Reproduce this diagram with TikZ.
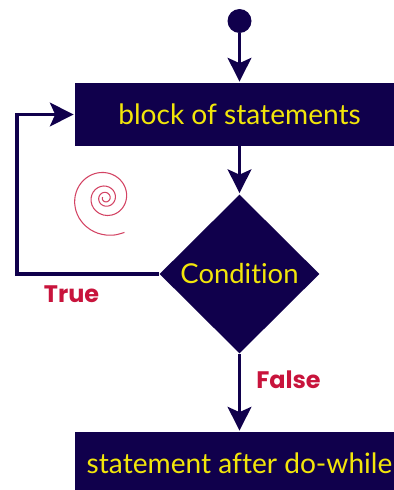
\documentclass[tikz,border=0pt]{standalone}
\usepackage{fontspec}
\setmainfont{Lato}[Ligatures=NoCommon]
\newfontfamily\labelfont{Poppins}
\usetikzlibrary{arrows.meta, shapes.geometric}
\definecolor{navy}{HTML}{10004C}
\definecolor{lemon}{HTML}{F2E60A}
\definecolor{crimson}{HTML}{C8143C}
\tikzset{
	flow/.style={draw=navy, line width=1.8pt, shorten >=0.6pt, -{Stealth[length=13.5pt, width=13.5pt, inset=3pt]}},
	blockbox/.style={fill=navy, text=lemon, minimum width=6.58cm, minimum height=1.26cm, inner sep=0pt, font=\fontsize{16}{18}\selectfont},
	label/.style={text=crimson, inner sep=0pt, font=\labelfont\fontsize{13.6}{16}\selectfont\bfseries}
}
\begin{document}
\begin{tikzpicture} [x=0.02cm, y=-0.02cm]
	\useasboundingbox (0,0) rectangle (393,490);
	
	\node[circle, fill=navy, minimum size=0.48cm, inner sep=0pt] (start) at (239.5,21) {};
	\node[blockbox] (block) at (239.5,114.5) {block of statements};
	\node[diamond, fill=navy, text=lemon, minimum width=3.2cm, minimum height=3.18cm, inner sep=0pt, font=\fontsize{15.6}{18}\selectfont] (cond) at (239.5,274) {Condition};
	\node[blockbox] (after) at (239.5,463.5) {statement after do-while};
	\coordinate (loopb) at (17,274);
	\coordinate (loopt) at (17,114.5);
	
	\draw[flow] (start) -- (block);
	\draw[flow] (block) -- (cond);
	\draw[flow] (cond) -- (after);
	\draw[flow] (cond) -- (loopb) -- (loopt) -- (block);
	
	\node[label] (truelabel) at (71.5,294) {True};
	\node[label] (falselabel) at (288.5,380) {False};
	
	% spiral
	\draw[crimson!80, line width=0.6pt] plot[smooth, samples=90, domain=-0.08:3.3, variable=\t]
		({105.5+37*exp(-0.755*\t)*cos(90+360*\t)}, {198+37*exp(-0.755*\t)*sin(90+360*\t)});
\end{tikzpicture}
\end{document}
